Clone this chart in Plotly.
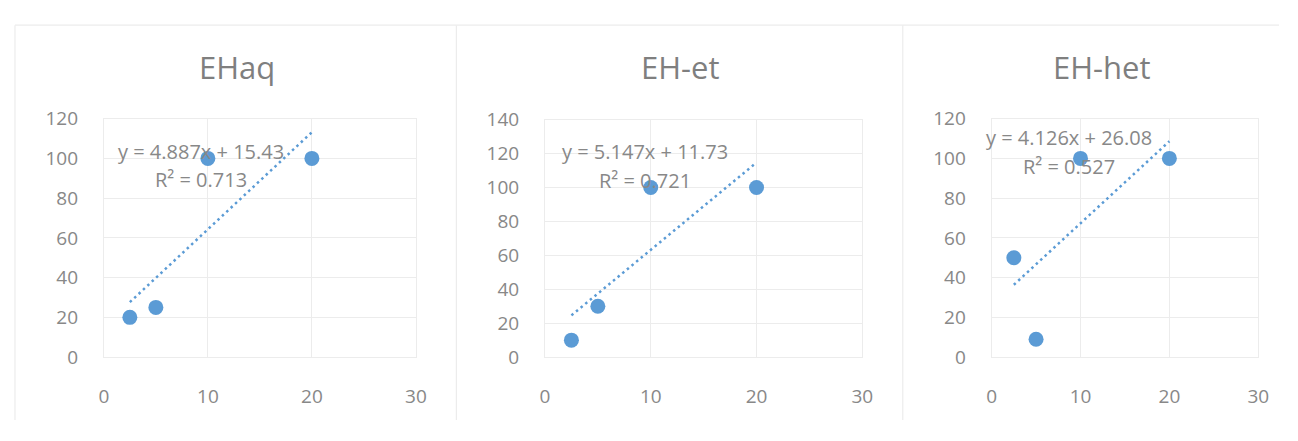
import plotly.graph_objects as go

OFF = 8  # page body margin
W, H = 1298 - 2 * OFF, 441 - 2 * OFF  # figure fits the window exactly

# ---- data ----
titles = ["EHaq", "EH-et", "EH-het"]
x_vals = [2.5, 5, 10, 20]
y_ehaq = [20, 25, 100, 100]
y_ehet = [10, 30, 100, 100]
y_ehhet = [50, 9, 100, 100]
slopes = [4.887, 5.147, 4.126]
intercepts = [15.43, 11.73, 26.08]
r2_vals = [0.713, 0.721, 0.527]
y_max = [120, 140, 120]
x_ticks = [0, 10, 20, 30]

series = [y_ehaq, y_ehet, y_ehhet]

# ---- layout geometry (screen pixels) ----
plot_x = [(100, 416), (546.7, 868), (999, 1269)]
plot_y = [(112, 366), (113, 366), (112, 366)]
frame_vlines = [10, 457, 909]
frame_top = 12.5
title_pos = [(235, 57), (684, 57), (1111, 57)]
eq_pos = [(198.5, 146.5), (648, 147.5), (1077, 132.5)]
r2_pos = [(198, 176.5), (648, 177.5), (1077, 162.5)]


def px(x):
    return min(1.0, max(0.0, (x - OFF) / W))


def py(y):
    return min(1.0, max(0.0, 1 - (y - OFF) / H))


BLUE = "#5B9BD5"
TXT = "#888888"
GRID = "#ececec"
FRAME = "#ececec"
FONT = "Open Sans"

fig = go.Figure()
annotations = []
shapes = []

for i in range(3):
    ax = "" if i == 0 else str(i + 1)
    xa, ya = "x" + ax, "y" + ax
    tx = [min(x_vals), max(x_vals)]
    ty = [slopes[i] * t + intercepts[i] for t in tx]
    fig.add_trace(go.Scatter(x=tx, y=ty, mode="lines",
                             line=dict(color=BLUE, width=2.5, dash="2.5px,3.5px"),
                             xaxis=xa, yaxis=ya, showlegend=False, hoverinfo="skip"))
    fig.add_trace(go.Scatter(x=x_vals, y=series[i], mode="markers",
                             marker=dict(color=BLUE, size=15, line=dict(width=0)),
                             xaxis=xa, yaxis=ya, showlegend=False))
    x0, x1 = plot_x[i]
    y0, y1 = plot_y[i]
    axis_common = dict(showgrid=True, gridcolor=GRID, gridwidth=1, zeroline=False,
                       showline=True, linecolor=GRID, linewidth=1, mirror=True,
                       ticks="", tickfont=dict(family=FONT, size=19, color=TXT))
    fig.update_layout(**{
        "xaxis" + ax: dict(domain=[px(x0), px(x1)], range=[0, 30], tickvals=x_ticks,
                           anchor=ya, ticklabelstandoff=22, **axis_common),
        "yaxis" + ax: dict(domain=[py(y1), py(y0)], range=[0, y_max[i]], dtick=20,
                           anchor=xa, ticklabelstandoff=21, **axis_common),
    })
    annotations.append(dict(text=titles[i], xref="paper", yref="paper",
                            x=px(title_pos[i][0]), y=py(title_pos[i][1]),
                            xanchor="center", yanchor="middle", showarrow=False,
                            font=dict(family=FONT, size=31, color="#7f7f7f")))
    annotations.append(dict(text=f"y = {slopes[i]:.3f}x + {intercepts[i]:.2f}",
                            xref="paper", yref="paper",
                            x=px(eq_pos[i][0]), y=py(eq_pos[i][1]),
                            xanchor="center", yanchor="middle", showarrow=False,
                            font=dict(family=FONT, size=20, color=TXT)))
    annotations.append(dict(text=f"R² = {r2_vals[i]:.3f}",
                            xref="paper", yref="paper",
                            x=px(r2_pos[i][0]), y=py(r2_pos[i][1]),
                            xanchor="center", yanchor="middle", showarrow=False,
                            font=dict(family=FONT, size=20, color=TXT)))

# chart-area frames (kept inside the paper so the page does not grow)
shapes.append(dict(type="line", xref="paper", yref="paper",
                   x0=px(frame_vlines[0]), x1=1, y0=py(frame_top), y1=py(frame_top),
                   line=dict(color=FRAME, width=1.2), layer="below"))
for fx in frame_vlines:
    shapes.append(dict(type="line", xref="paper", yref="paper",
                       x0=px(fx), x1=px(fx), y0=0, y1=py(frame_top),
                       line=dict(color=FRAME, width=1.2), layer="below"))

fig.update_layout(width=W, height=H, margin=dict(l=0, r=0, t=0, b=0),
                  paper_bgcolor="white", plot_bgcolor="white",
                  annotations=annotations, shapes=shapes, showlegend=False)

fig.write_html("out.html")
